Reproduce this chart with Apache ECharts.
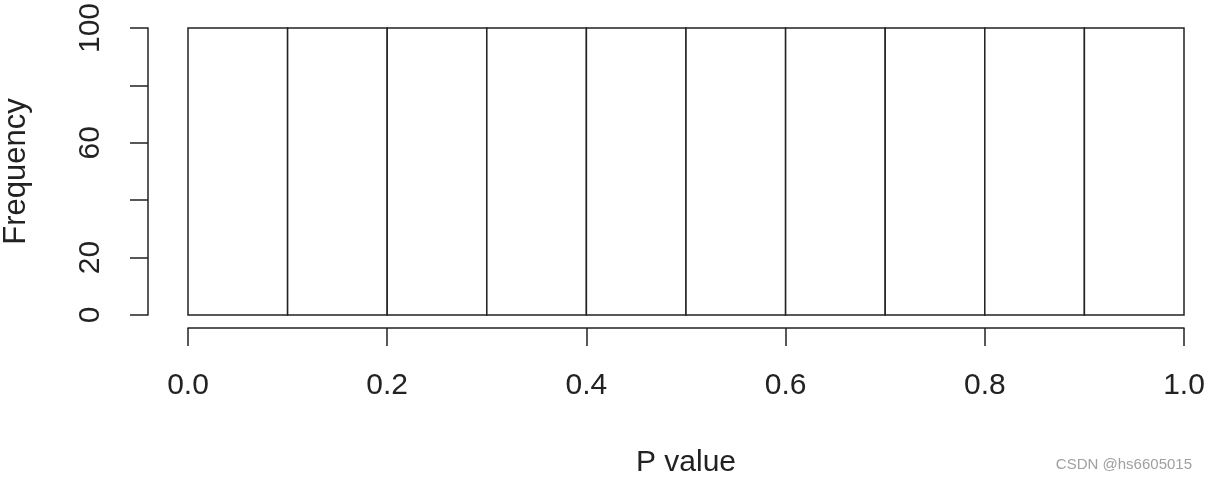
<!DOCTYPE html>
<html>
<head>
<meta charset="utf-8">
<script src="https://cdn.jsdelivr.net/npm/echarts@6/dist/echarts.min.js"></script>
<style>html,body{margin:0;padding:0;background:#fff;}#c{width:1207px;height:480px;}</style>
</head>
<body>
<div id="c"></div>
<script>
var binStarts = [0.0, 0.1, 0.2, 0.3, 0.4, 0.5, 0.6, 0.7, 0.8, 0.9];
var binEnds = [0.1, 0.2, 0.3, 0.4, 0.5, 0.6, 0.7, 0.8, 0.9, 1.0];
var frequencies = [100, 100, 100, 100, 100, 100, 100, 100, 100, 100];
var yTickLabels = ['0', '20', '', '60', '', '100'];
var xTickLabels = ['0.0', '0.2', '0.4', '0.6', '0.8', '1.0'];

var data = binStarts.map(function (s, i) { return [s, binEnds[i], frequencies[i]]; });
var font = 'Liberation Sans, Arial, sans-serif';
var ink = '#222';
var chart = echarts.init(document.getElementById('c'), null, {renderer: 'canvas'});
chart.setOption({
  animation: false,
  backgroundColor: '#fff',
  grid: {left: 188, right: 23, top: 28, bottom: 165, containLabel: false, outerBoundsMode: 'none'},
  xAxis: {
    type: 'value', min: 0, max: 1, interval: 0.2, offset: 13,
    name: 'P value', nameLocation: 'middle', nameGap: 120,
    nameTextStyle: {fontFamily: font, fontSize: 30, color: ink},
    axisLine: {show: true, onZero: false, lineStyle: {color: ink, width: 1.5}},
    axisTick: {show: true, length: 18, lineStyle: {color: ink, width: 1.5}},
    axisLabel: {fontFamily: font, fontSize: 30, color: ink, margin: 43,
      formatter: function (v) { return xTickLabels[Math.round(v / 0.2)]; }},
    splitLine: {show: false}
  },
  yAxis: {
    type: 'value', min: 0, max: 100, interval: 20, offset: 40,
    name: 'Frequency', nameLocation: 'middle', nameGap: 116, nameRotate: 90,
    nameTextStyle: {fontFamily: font, fontSize: 31, color: ink},
    axisLine: {show: true, onZero: false, lineStyle: {color: ink, width: 1.5}},
    axisTick: {show: true, length: 18, lineStyle: {color: ink, width: 1.5}},
    axisLabel: {fontFamily: font, fontSize: 30, color: ink, rotate: 90, margin: 42,
      formatter: function (v) { return yTickLabels[Math.round(v / 20)]; }},
    splitLine: {show: false}
  },
  series: [{
    type: 'custom',
    data: data,
    renderItem: function (params, api) {
      var p0 = api.coord([api.value(0), api.value(2)]);
      var p1 = api.coord([api.value(1), 0]);
      return {
        type: 'rect',
        shape: {x: p0[0], y: p0[1], width: p1[0] - p0[0], height: p1[1] - p0[1]},
        style: {fill: '#fff', stroke: ink, lineWidth: 1.5}
      };
    }
  }],
  graphic: [{
    type: 'text', right: 15, top: 457,
    style: {text: 'CSDN @hs6605015', font: '15px ' + font, fill: '#a0a0a0'}
  }]
});
</script>
</body>
</html>
